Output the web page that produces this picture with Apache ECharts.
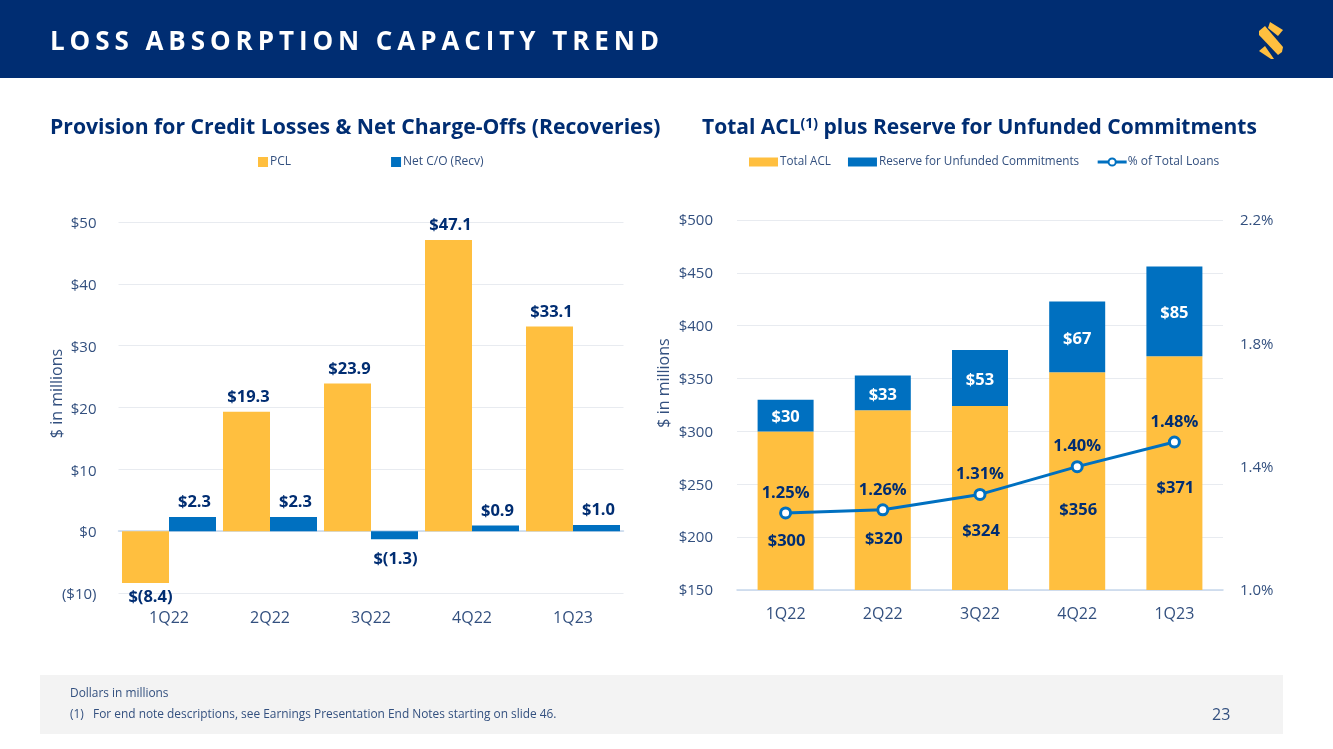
<!DOCTYPE html>
<html>
<head>
<meta charset="utf-8">
<title>Loss Absorption Capacity Trend</title>
<script src="https://cdn.jsdelivr.net/npm/echarts@6/dist/echarts.min.js"></script>
<style>
html, body { margin: 0; padding: 0; background: #fff; }
#main { position: absolute; left: 0; top: 0; width: 1333px; height: 749px; }
#head { position: absolute; left: 50px; top: 22px; color: #fff; font: bold 26px "Open Sans", sans-serif; letter-spacing: 4.93px; white-space: nowrap; }
</style>
</head>
<body>
<div id="main"></div>
<div id="head">LOSS ABSORPTION CAPACITY TREND</div>
<script>
var quarters = ['1Q22', '2Q22', '3Q22', '4Q22', '1Q23'];
var pcl = [-8.4, 19.3, 23.9, 47.1, 33.1];
var netCO = [2.3, 2.3, -1.3, 0.9, 1.0];
var totalACL = [300, 320, 324, 356, 371];
var reserve = [30, 33, 53, 67, 85];
var pctLoans = [1.25, 1.26, 1.31, 1.40, 1.48];

// hand placed labels inside the yellow bars, px from bar centre
var aclLabelShift = [31, 39, 33, 29, 15];

var NAVY = '#002d72', YELLOW = '#ffbf3f', BLUE = '#0070c0', TICK = '#33507f', FONT = '"Open Sans", sans-serif';

function money(v) {
	return v < 0 ? '$(' + Math.abs(v).toFixed(1) + ')' : '$' + v.toFixed(1);
}

function barLabel(extra) {
	return Object.assign({
		show: true,
		color: NAVY,
		fontFamily: FONT,
		fontWeight: 'bold',
		fontSize: 16.5
	}, extra);
}

// negative bars carry their label underneath
function signedBars(values, gap, dx) {
	return values.map(function(v) {
		return v < 0 ? { value: v, label: { position: 'bottom', distance: gap, offset: [dx, 0] } } : v;
	});
}

// value axis labels sit a little low in the original, rich text lets them move
function tickLabel(margin, pad, fmt) {
	return {
		margin: margin,
		formatter: function(v) { return '{t|' + fmt(v) + '}'; },
		rich: { t: { color: TICK, fontFamily: FONT, fontSize: 15, padding: [pad, 0, 0, 0] } }
	};
}

var catStyle = { color: TICK, fontFamily: FONT, fontSize: 16 };
var gridLine = { show: true, lineStyle: { color: '#e8ebf0', width: 1 } };
var baseLine = { show: true, lineStyle: { color: '#c6d8ec', width: 1.5 } };

var myChart = echarts.init(document.getElementById('main'));
var option = {
	animation: false,
	title: [{
		text: 'Provision for Credit Losses & Net Charge-Offs (Recoveries)',
		left: 50, top: 117, padding: 0,
		textStyle: { color: NAVY, fontFamily: FONT, fontWeight: 'bold', fontSize: 21.2 }
	}, {
		text: 'Total ACL{sup|(1)} plus Reserve for Unfunded Commitments',
		left: 702, top: 117, padding: 0,
		textStyle: {
			color: NAVY, fontFamily: FONT, fontWeight: 'bold', fontSize: 21,
			rich: {
				sup: { color: NAVY, fontFamily: FONT, fontWeight: 'bold', fontSize: 14, verticalAlign: 'top', padding: [0, 0, 8, 0] }
			}
		}
	}],
	legend: [{
		left: 253, top: 151,
		itemWidth: 10, itemHeight: 10, itemGap: 100, icon: 'rect',
		textStyle: { color: TICK, fontFamily: FONT, fontSize: 12, padding: [0, 0, 0, -3] },
		data: ['PCL', 'Net C/O (Recv)']
	}, {
		left: 744, top: 151,
		itemWidth: 29, itemHeight: 9, itemGap: 17,
		lineStyle: { width: 3 },
		textStyle: { color: TICK, fontFamily: FONT, fontSize: 11.7, padding: [0, 0, 0, -3] },
		data: [
			{ name: 'Total ACL', icon: 'rect' },
			{ name: 'Reserve for Unfunded Commitments', icon: 'rect' },
			{ name: '% of Total Loans', textStyle: { fontSize: 12, padding: [0, 0, 0, -4] } }
		]
	}],
	grid: [
		{ left: 118.5, top: 222, width: 505, height: 371 },
		{ left: 737, top: 220, width: 486, height: 370 }
	],
	xAxis: [{
		gridIndex: 0, type: 'category', data: quarters,
		axisLine: { show: false, onZero: false }, axisTick: { show: false },
		axisLabel: Object.assign({ margin: 17 }, catStyle)
	}, {
		// zero line only, the labels stay at the bottom
		gridIndex: 0, type: 'category', data: quarters,
		axisLine: Object.assign({ onZero: true }, baseLine), axisTick: { show: false }, axisLabel: { show: false }
	}, {
		gridIndex: 1, type: 'category', data: quarters,
		axisLine: baseLine, axisTick: { show: false },
		axisLabel: Object.assign({ margin: 16 }, catStyle)
	}],
	yAxis: [{
		gridIndex: 0, type: 'value', min: -10, max: 50, interval: 10,
		name: '$ in millions', nameLocation: 'middle', nameGap: 53, nameMoveOverlap: false,
		nameTextStyle: { color: TICK, fontFamily: FONT, fontSize: 16, padding: [0, 0, 0, 28] },
		axisLine: { show: false }, axisTick: { show: false }, splitLine: gridLine,
		axisLabel: tickLabel(22, 4, function(v) { return v < 0 ? '($' + Math.abs(v) + ')' : '$' + v; })
	}, {
		gridIndex: 1, type: 'value', min: 150, max: 500, interval: 50,
		name: '$ in millions', nameLocation: 'middle', nameGap: 65, nameMoveOverlap: false,
		nameTextStyle: { color: TICK, fontFamily: FONT, fontSize: 16, padding: [0, 0, 0, 44] },
		axisLine: { show: false }, axisTick: { show: false }, splitLine: gridLine,
		axisLabel: tickLabel(24, 2, function(v) { return '$' + v; })
	}, {
		gridIndex: 1, type: 'value', position: 'right', min: 1.0, max: 2.2, interval: 0.4,
		axisLine: { show: false }, axisTick: { show: false }, splitLine: { show: false },
		axisLabel: tickLabel(17, 2, function(v) { return v.toFixed(1) + '%'; })
	}],
	series: [{
		name: 'PCL', type: 'bar', xAxisIndex: 0, yAxisIndex: 0,
		data: signedBars(pcl, 6, 5), barWidth: 47, barGap: '0%',
		itemStyle: { color: YELLOW },
		label: barLabel({ position: 'top', distance: 6, offset: [2, 0], formatter: function(p) { return money(p.value); } })
	}, {
		name: 'Net C/O (Recv)', type: 'bar', xAxisIndex: 0, yAxisIndex: 0,
		data: signedBars(netCO, 12, 1), barWidth: 47,
		itemStyle: { color: BLUE },
		label: barLabel({ position: 'top', distance: 6, offset: [2, 0], formatter: function(p) { return money(p.value); } })
	}, {
		name: 'Total ACL', type: 'bar', stack: 'acl', xAxisIndex: 2, yAxisIndex: 1,
		barWidth: 56,
		data: totalACL.map(function(v, i) {
			return { value: v, label: { offset: [1, aclLabelShift[i]] } };
		}),
		itemStyle: { color: YELLOW },
		label: barLabel({ position: 'inside', formatter: '${c}' })
	}, {
		name: 'Reserve for Unfunded Commitments', type: 'bar', stack: 'acl', xAxisIndex: 2, yAxisIndex: 1,
		barWidth: 56, data: reserve,
		itemStyle: { color: BLUE },
		label: barLabel({ position: 'inside', offset: [0, 2], color: '#fff', formatter: '${c}' })
	}, {
		name: '% of Total Loans', type: 'line', xAxisIndex: 2, yAxisIndex: 2,
		data: pctLoans, symbol: 'circle', symbolSize: 10, z: 5,
		lineStyle: { color: BLUE, width: 3 },
		itemStyle: { color: '#fff', borderColor: BLUE, borderWidth: 3 },
		label: barLabel({
			position: 'top', distance: 5,
			formatter: function(p) { return p.value.toFixed(2) + '%'; }
		})
	}],
	graphic: [
		{ type: 'rect', z: -1, shape: { x: 0, y: 0, width: 1333, height: 78 }, style: { fill: NAVY } },
		{ type: 'polygon', z: 1, shape: { points: [[1270, 22], [1283, 30], [1278, 36], [1268, 28]] }, style: { fill: YELLOW } },
		{ type: 'polygon', z: 1, shape: { points: [[1259, 31], [1265, 26], [1283, 47], [1282, 52], [1278, 55], [1259, 35]] }, style: { fill: YELLOW } },
		{ type: 'polygon', z: 1, shape: { points: [[1259, 51], [1265, 46], [1274, 59], [1271, 59]] }, style: { fill: YELLOW } },
		{ type: 'rect', z: -1, shape: { x: 40, y: 675, width: 1243, height: 59 }, style: { fill: '#f3f3f3' } },
		{ type: 'text', z: 1, left: 70, top: 688, style: { text: 'Dollars in millions', fill: TICK, font: '11.9px "Open Sans", sans-serif' } },
		{ type: 'text', z: 1, left: 70, top: 709, style: { text: '(1)   For end note descriptions, see Earnings Presentation End Notes starting on slide 46.', fill: TICK, font: '11.9px "Open Sans", sans-serif' } },
		{ type: 'text', z: 1, left: 1212, top: 707, style: { text: '23', fill: TICK, font: '16px "Open Sans", sans-serif' } }
	]
};
myChart.setOption(option);
</script>
</body>
</html>
